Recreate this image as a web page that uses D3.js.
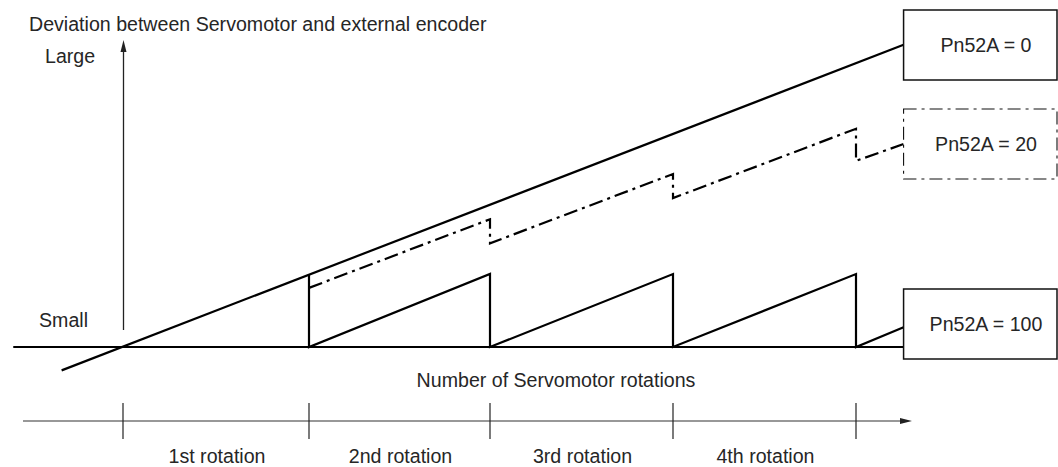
<!DOCTYPE html>
<html>
<head>
<meta charset="utf-8">
<script src="https://cdn.jsdelivr.net/npm/d3@7/dist/d3.min.js"></script>
<style>
  html, body { margin: 0; padding: 0; background: #fff; }
  svg { display: block; }
  text { font-family: "Liberation Sans", Arial, sans-serif; font-size: 19.6px; fill: #262626; }
</style>
</head>
<body>
<svg id="chart" width="1058" height="467"></svg>
<script>
// ---- data ----
const rotationTicks = [0, 1, 2, 3, 4];
const rotationLabels = ["1st rotation", "2nd rotation", "3rd rotation", "4th rotation"];
const seriesNames = ["Pn52A = 0", "Pn52A = 20", "Pn52A = 100"];
const yAxisTitle = "Deviation between Servomotor and external encoder";
const xAxisTitle = "Number of Servomotor rotations";
const levelLabels = ["Large", "Small"];
// [rotations, deviation]
const baselineData = [[-0.59, 0], [4.26, 0]];
const pn0Data = [[-0.33, -0.32], [4.26, 4.14]];
const pn20Data = [[1, 0.81], [2, 1.75], [2, 1.42], [3, 2.37], [3, 2.04], [4, 2.99], [4, 2.55], [4.26, 2.78]];
const pn100Data = [[1, 1.0], [1, 0], [2, 1.0], [2, 0], [3, 1.0], [3, 0], [4, 1.0], [4, 0], [4.26, 0.27]];

// ---- scales ----
const svg = d3.select("#chart");
const x = d3.scaleLinear().domain(rotationTicks).range([123, 309, 490, 673, 856]);
const y = d3.scaleLinear().domain([0, 4]).range([347, 55]);
const line = d3.line().x(d => x(d[0])).y(d => y(d[1]));

// ---- vertical (deviation) axis with arrow ----
const ax = x(0) + 0.5;
svg.append("line").attr("x1", ax).attr("x2", ax).attr("y1", 330).attr("y2", 50)
  .attr("stroke", "#222").attr("stroke-width", 1.3);
svg.append("path").attr("d", `M${ax},40 L${ax - 3},52 L${ax + 3},52 Z`).attr("fill", "#222");

svg.append("text").attr("x", 29).attr("y", 31).text(yAxisTitle);
svg.append("text").attr("x", 45).attr("y", 63).text(levelLabels[0]);
svg.append("text").attr("x", 39).attr("y", 327).text(levelLabels[1]);

// ---- curves ----
svg.append("path").datum(baselineData).attr("d", line)
  .attr("fill", "none").attr("stroke", "#000").attr("stroke-width", 2.2);
svg.append("path").datum(pn0Data).attr("d", line)
  .attr("fill", "none").attr("stroke", "#000").attr("stroke-width", 2.2);
svg.append("path").datum(pn100Data).attr("d", line)
  .attr("fill", "none").attr("stroke", "#000").attr("stroke-width", 2.2)
  .attr("stroke-linejoin", "miter");
svg.append("path").datum(pn20Data).attr("d", line)
  .attr("fill", "none").attr("stroke", "#000").attr("stroke-width", 2.2)
  .attr("stroke-dasharray", "14,5,3,5");

// ---- legend boxes ----
const bx = x(4.26);
const boxes = [
  { name: seriesNames[0], y0: 10, dash: null, sw: 1.5 },
  { name: seriesNames[1], y0: 109, dash: "13,5,3,5", sw: 1.1 },
  { name: seriesNames[2], y0: 289, dash: null, sw: 1.5 }
];
boxes.forEach(b => {
  svg.append("rect").attr("x", bx).attr("y", b.y0).attr("width", 1057 - bx).attr("height", 70)
    .attr("fill", "#fff").attr("stroke", "#111").attr("stroke-width", b.sw)
    .attr("stroke-dasharray", b.dash);
  svg.append("text").attr("x", 986).attr("y", b.y0 + 42).attr("text-anchor", "middle").text(b.name);
});

// ---- x axis title ----
svg.append("text").attr("x", 556).attr("y", 387).attr("text-anchor", "middle").text(xAxisTitle);

// ---- lower rotation axis ----
const axY = 421;
svg.append("line").attr("x1", 23).attr("x2", 902).attr("y1", axY).attr("y2", axY)
  .attr("stroke", "#333").attr("stroke-width", 1.2);
svg.append("path").attr("d", `M912,${axY} L900,${axY - 3} L900,${axY + 3} Z`).attr("fill", "#222");
svg.selectAll(".rtick").data(rotationTicks).enter().append("line")
  .attr("x1", d => x(d)).attr("x2", d => x(d)).attr("y1", 403).attr("y2", 439)
  .attr("stroke", "#222").attr("stroke-width", 1.2);
svg.selectAll(".rlab").data(rotationLabels).enter().append("text")
  .attr("x", (d, i) => (x(i) + x(i + 1)) / 2 + 1).attr("y", 463)
  .attr("text-anchor", "middle").text(d => d);
</script>
</body>
</html>
